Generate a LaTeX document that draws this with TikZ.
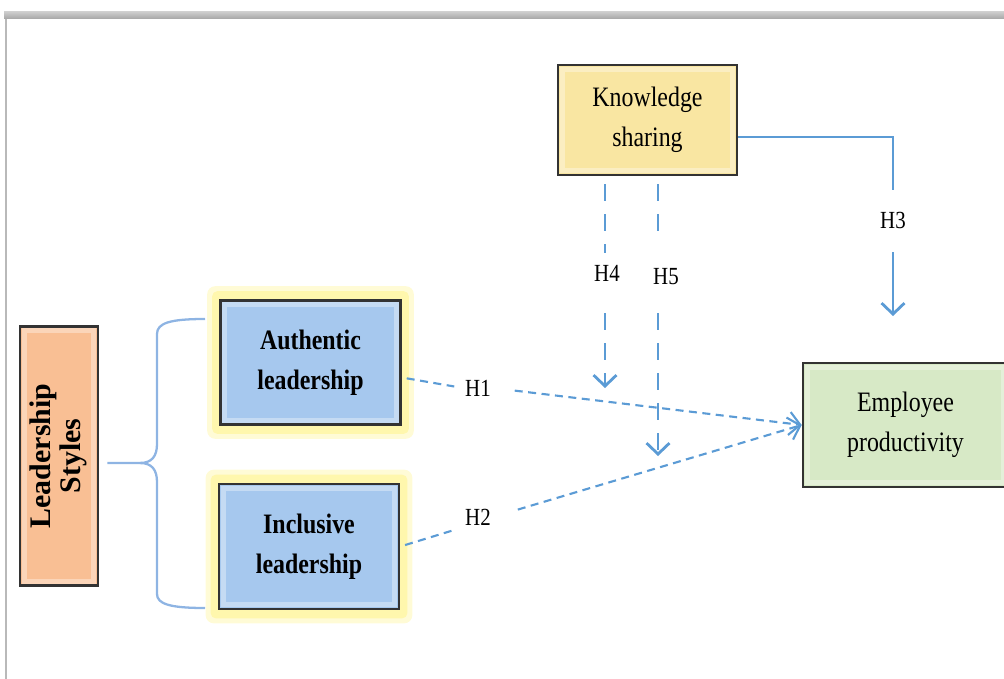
\documentclass[tikz,border=0pt]{standalone}
\usepackage{fontspec}
\setmainfont[FakeStretch=0.85]{Liberation Serif}
\newfontfamily\widefont{Liberation Serif}
\usepackage{tikz}
\usetikzlibrary{arrows.meta,positioning,backgrounds,calc}

\definecolor{lineblue}{HTML}{5B9BD5}
\definecolor{braceblue}{HTML}{8EB4E3}
\definecolor{stylefill}{HTML}{F9BF94}
\definecolor{leadfill}{HTML}{A6C8EE}
\definecolor{ksfill}{HTML}{F9E6A2}
\definecolor{empfill}{HTML}{D7E9C6}
\definecolor{glowyellow}{HTML}{FFF38A}

\begin{document}
\begin{tikzpicture}[
  x=0.02cm, y=-0.02cm,
  box/.style={draw=black!80, line width=1.5pt, align=center, inner sep=0pt,
    font=\fontsize{16}{22.5}\selectfont,
    path picture={
      \draw[white, opacity=0.35, line width=3pt]
        ([shift={(2.4pt,-2.4pt)}]path picture bounding box.north west) rectangle
        ([shift={(-2.4pt,2.4pt)}]path picture bounding box.south east);
    }},
  hyp/.style={inner sep=1pt, font=\fontsize{14}{16}\selectfont},
  solidline/.style={lineblue, line width=1.6pt},
  solidarrow/.style={solidline, -{Straight Barb[length=2.2mm,width=4.6mm]}},
  dashdown/.style={lineblue, line width=1.6pt, dash pattern=on 3.4mm off 2.6mm},
  dashdownarrow/.style={dashdown, -{Straight Barb[length=2.2mm,width=4.6mm]}},
  dashpath/.style={lineblue, line width=1.2pt, dash pattern=on 1.6mm off 1.1mm},
  dasharrow/.style={dashpath, -{Straight Barb[length=2.2mm,width=4.6mm]}},
  brace/.style={braceblue, line width=1.3pt}
]
\useasboundingbox (0,0) rectangle (1004,679);
\clip (0,0) rectangle (1004,679);

% frame
\shade[top color=gray!40, bottom color=gray!70] (4,12) rectangle (1004,19);
\draw[gray!55, line width=1.2pt] (6,19) -- (6,679);

% boxes
\node[box, fill=stylefill, minimum width=1.56cm, minimum height=5.18cm] (styles) at (59,456)
  {\rotatebox{90}{\widefont\bfseries\fontsize{17}{18}\selectfont
   \begin{tabular}{@{}c@{}}Leadership\\[-1pt]Styles\end{tabular}}};
\node[box, fill=leadfill, minimum width=3.6cm, minimum height=2.48cm, font=\fontsize{16}{22.5}\selectfont\bfseries] (auth) at (310.5,362.5) {Authentic\\leadership};
\node[box, fill=leadfill, minimum width=3.6cm, minimum height=2.5cm, font=\fontsize{16}{22.5}\selectfont\bfseries] (incl) at (309,546.5) {Inclusive\\leadership};
\node[box, fill=ksfill, minimum width=3.58cm, minimum height=2.2cm] (ks) at (647.5,120) {Knowledge\\sharing};
\node[box, fill=empfill, minimum width=4.1cm, minimum height=2.48cm] (emp) at (905.5,425) {Employee\\productivity};

% glow
\begin{scope}[on background layer]
\foreach \n in {auth,incl} {
  \fill[glowyellow!35, rounded corners=1.6mm] ([shift={(-12,-13)}]\n.north west) rectangle ([shift={(12,13)}]\n.south east);
  \fill[glowyellow!70, rounded corners=1mm] ([shift={(-7,-8)}]\n.north west) rectangle ([shift={(7,8)}]\n.south east);
}
\end{scope}

% brace
\coordinate (tip) at ([shift={(8,7)}]styles.east);
\draw[brace] (tip) -- (140,463) .. controls (152,463) and (157,456) .. (157,444) -- (157,334)
  .. controls (157,323) and (170,319) .. (205,319);
\draw[brace] (140,463) .. controls (152,463) and (157,470) .. (157,482) -- (157,594)
  .. controls (157,604) and (170,608) .. (205,608);

% hypotheses
\node[hyp] (h1) at (478,388) {H1};
\node[hyp] (h2) at (478,517) {H2};
\node[hyp] (h3) at (893,220) {H3};
\node[hyp] (h4) at (607,273) {H4};
\node[hyp] (h5) at (666,277) {H5};
\coordinate (h3tip) at (893,316);
\coordinate (h4tip) at (605,388);
\coordinate (h5tip) at (658,456);

\draw[solidline, shorten >=4mm] ([yshift=-3.4mm]ks.east) -| (h3.north);
\draw[solidarrow, shorten <=4.4mm] (h3.south) -- (h3tip);

\draw[dashdown, shorten <=1.6mm, shorten >=2mm] (ks.south -| h4tip) -- (h4tip |- h4.north);
\draw[dashdownarrow, shorten <=6mm] (h4tip |- h4.south) -- (h4tip);
\draw[dashdown, shorten <=1.6mm, shorten >=6.8mm] (ks.south -| h5tip) -- (h5tip |- h5.north);
\draw[dashdownarrow, shorten <=5.2mm] (h5tip |- h5.south) -- (h5tip);

\draw[dashpath, shorten <=1mm, shorten >=1.8mm] ([yshift=-3mm]auth.east) -- (h1.west);
\draw[dasharrow, shorten <=4.4mm] (h1.east) -- (emp.west);
\draw[dashpath, shorten <=1mm, shorten >=1.8mm] (incl.east) -- (h2.south west);
\draw[dasharrow, shorten <=5.2mm] (h2.east) -- (emp.west);
\end{tikzpicture}
\end{document}
